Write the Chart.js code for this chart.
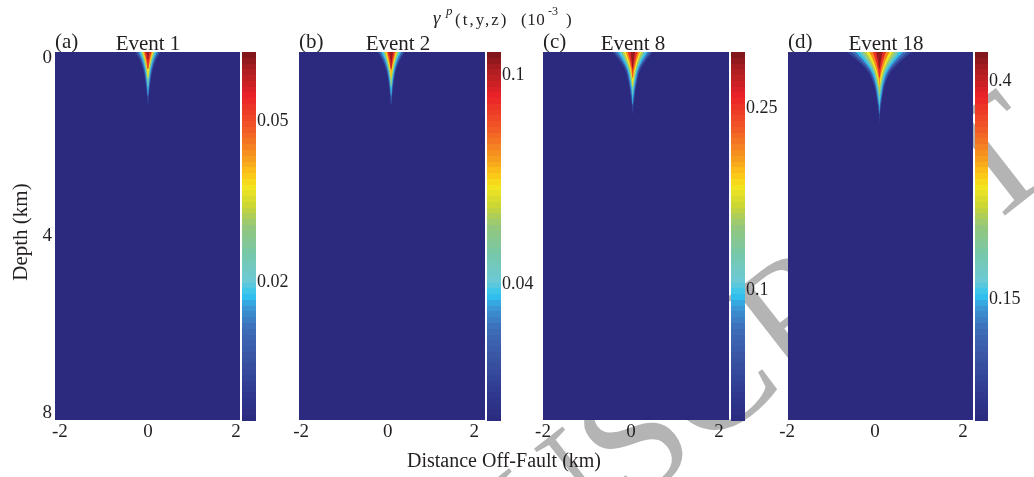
<!DOCTYPE html>
<html>
<head>
<meta charset="utf-8">
<script src="https://cdn.jsdelivr.net/npm/chart.js@4.4.0/dist/chart.umd.min.js"></script>
<style>
  html, body { margin: 0; padding: 0; background: #fff; }
  #wrap { position: relative; width: 1034px; height: 477px; overflow: hidden; }
  #wrap canvas { position: absolute; left: 0; top: 0; }
</style>
</head>
<body>
<div id="wrap"></div>
<script>
// ---- data -------------------------------------------------------------
const panelTags  = ['(a)', '(b)', '(c)', '(d)'];
const eventNames = ['Event 1', 'Event 2', 'Event 8', 'Event 18'];
const distTicks  = [-2, 0, 2];
const depthTicks = [0, 4, 8];
const depthRange = [-0.14, 8.16];
const distRange  = [[-2.11, 2.09], [-2.05, 2.25], [-2.0, 2.23], [-1.98, 2.23]];
const cbarTicks  = [[0.02, 0.05], [0.04, 0.1], [0.1, 0.25], [0.15, 0.4]];
const cbarRange  = [[-0.006, 0.063], [0.001, 0.1066], [-0.008, 0.296], [0.011, 0.434]];

// plume: half-width (km) of each filled contour level at these depths
const plumeCenter = [0, 0.08, 0.04, 0.1];
const depthRows   = [-0.14, 0.05, 0.25, 0.45, 0.65, 0.85, 1.05, 1.25, 1.45];
const levelFrac   = [0.12, 0.25, 0.335, 0.44, 0.55, 0.635, 0.73, 0.86, 0.97];

const widthsEv1 = [
  [0.28, 0.18, 0.11, 0.07, 0.045, 0.022, 0],
  [0.24, 0.15, 0.09, 0.055, 0.03, 0],
  [0.20, 0.12, 0.07, 0.04, 0.015, 0],
  [0.17, 0.10, 0.055, 0.025, 0],
  [0.14, 0.08, 0.04, 0],
  [0.12, 0.065, 0.025, 0],
  [0.10, 0.05, 0],
  [0.075, 0.03, 0],
  [0.035, 0]
];
const widthsEv2 = [
  [0.31, 0.20, 0.12, 0.075, 0.045, 0.025, 0],
  [0.27, 0.17, 0.10, 0.06, 0.035, 0.01, 0],
  [0.23, 0.14, 0.08, 0.045, 0.02, 0],
  [0.19, 0.115, 0.065, 0.03, 0],
  [0.16, 0.095, 0.05, 0.015, 0],
  [0.135, 0.08, 0.035, 0],
  [0.11, 0.06, 0.015, 0],
  [0.085, 0.04, 0],
  [0.045, 0.015, 0]
];
const widthsEv8 = [
  [0.46, 0.30, 0.18, 0.115, 0.075, 0.045, 0.02, 0],
  [0.40, 0.26, 0.15, 0.095, 0.06, 0.03, 0],
  [0.34, 0.22, 0.125, 0.075, 0.04, 0.015, 0],
  [0.29, 0.18, 0.10, 0.055, 0.02, 0],
  [0.24, 0.15, 0.08, 0.04, 0],
  [0.20, 0.12, 0.06, 0.02, 0],
  [0.16, 0.09, 0.04, 0],
  [0.11, 0.06, 0.015, 0],
  [0.055, 0.025, 0]
];
const widthsEv18 = [
  [0.74, 0.50, 0.30, 0.18, 0.11, 0.07, 0.04, 0.015, 0],
  [0.64, 0.43, 0.25, 0.15, 0.09, 0.055, 0.025, 0],
  [0.54, 0.36, 0.21, 0.12, 0.07, 0.04, 0.01, 0],
  [0.45, 0.30, 0.17, 0.09, 0.05, 0.015, 0],
  [0.37, 0.24, 0.13, 0.07, 0.025, 0],
  [0.30, 0.19, 0.10, 0.045, 0],
  [0.23, 0.14, 0.07, 0.02, 0],
  [0.15, 0.085, 0.035, 0],
  [0.075, 0.035, 0]
];
const plumeWidths = [widthsEv1, widthsEv2, widthsEv8, widthsEv18];

// ---- layout -----------------------------------------------------------
const W = 1034, H = 477;
const plotLeft  = [55, 299, 543, 788];
const plotRight = [240, 485, 729, 973];
const cbarLeft  = [242, 487, 731, 975];
const cbarRight = [256, 501, 745, 988];
const plotTop = 52, plotBottom = 420, cbarBottom = 421;
const eventX = [148, 398, 633, 886];

const SERIF = '"Liberation Serif", "Times New Roman", serif';
const INK = '#231f20';
Chart.defaults.font.family = SERIF;
Chart.defaults.color = INK;

// colour map, bottom to top
const cmapStops = [
  [0.00, '#2b2a7e'], [0.08, '#2e3a90'], [0.175, '#3a56a5'], [0.25, '#3e6db8'],
  [0.31, '#3a9ad8'], [0.34, '#2ec4f1'], [0.38, '#6ccad6'], [0.45, '#76c7aa'],
  [0.53, '#96c77a'], [0.58, '#c8d535'], [0.635, '#f4e61f'], [0.67, '#fcc417'],
  [0.725, '#f59020'], [0.79, '#f15a26'], [0.88, '#ea2228'], [0.945, '#b21f23'],
  [1.00, '#7a1518']
];
function hexRgb(h) { return [1, 3, 5].map(k => parseInt(h.substr(k, 2), 16)); }
function cmap(f) {
  f = Math.min(1, Math.max(0, f));
  for (let k = 1; k < cmapStops.length; k++) {
    const [f1, c1] = cmapStops[k];
    if (f <= f1) {
      const [f0, c0] = cmapStops[k - 1];
      const t = (f - f0) / (f1 - f0);
      const a = hexRgb(c0), b = hexRgb(c1);
      return 'rgb(' + a.map((v, j) => Math.round(v + (b[j] - v) * t)).join(',') + ')';
    }
  }
  return cmapStops[cmapStops.length - 1][1];
}

function addCanvas() {
  const c = document.createElement('canvas');
  c.width = W; c.height = H;
  c.style.width = W + 'px'; c.style.height = H + 'px';
  document.getElementById('wrap').appendChild(c);
  return c;
}

// ---- background layer: watermark and free text -----------------------
const bg = addCanvas().getContext('2d');
(function drawBackground(ctx) {
  // watermark letters, rotated, anchored on the "S"
  const size = 162, ang = -38 * Math.PI / 180;
  ctx.save();
  ctx.font = size + 'px ' + SERIF;
  ctx.fillStyle = '#b4b4b4';
  const pre = ctx.measureText('ACCEPTED MANU').width;
  const sW = ctx.measureText('S').width;
  ctx.translate(633, 438);
  ctx.rotate(ang);
  ctx.fillText('ACCEPTED MANUSCRIPT', -pre - sW / 2, size * 0.33);
  ctx.restore();

  ctx.fillStyle = INK;
  ctx.textBaseline = 'alphabetic';

  // panel tags and event names
  ctx.font = '21px ' + SERIF;
  for (let i = 0; i < 4; i++) {
    ctx.textAlign = 'left';
    ctx.fillText(panelTags[i], plotLeft[i], 48);
    ctx.textAlign = 'center';
    ctx.fillText(eventNames[i], eventX[i], 50);
  }

  // axis titles
  ctx.font = '20px ' + SERIF;
  ctx.textAlign = 'center';
  ctx.fillText('Distance Off-Fault (km)', 504, 467);
  ctx.font = '21px ' + SERIF;
  ctx.save();
  ctx.translate(27, 232);
  ctx.rotate(-Math.PI / 2);
  ctx.fillText('Depth (km)', 0, 0);
  ctx.restore();

  // colour bar title
  ctx.textAlign = 'left';
  ctx.font = 'italic 19px ' + SERIF;
  ctx.fillText('\u03b3', 433, 24);
  ctx.font = 'italic 13px ' + SERIF;
  ctx.fillText('p', 446, 15);
  ctx.font = '17px ' + SERIF;
  ctx.letterSpacing = '2px';
  ctx.fillText('(t,y,z)', 455, 25);
  ctx.letterSpacing = '0.5px';
  ctx.fillText('(10', 521, 25);
  ctx.letterSpacing = '0px';
  ctx.font = '12px ' + SERIF;
  ctx.fillText('-3', 548, 15);
  ctx.font = '17px ' + SERIF;
  ctx.fillText(')', 566, 25);
})(bg);

// ---- heat map panels --------------------------------------------------
const fillArea = {
  id: 'fillArea',
  beforeDatasetsDraw(chart) {
    const a = chart.chartArea, ctx = chart.ctx;
    ctx.save();
    ctx.fillStyle = cmap(0);
    ctx.fillRect(a.left, a.top, a.right - a.left, a.bottom - a.top);
    ctx.restore();
  }
};

function plumePath(widths, c) {
  const left = [], right = [];
  for (let r = 0; r < widths.length; r++) {
    if (widths[r] > 0) {
      left.push({ x: c - widths[r], y: depthRows[r] });
      right.unshift({ x: c + widths[r], y: depthRows[r] });
    } else {
      left.push({ x: c, y: depthRows[r] });
      break;
    }
  }
  return left.concat(right);
}

const tickFont = { family: SERIF, size: 19 };
const cbarFont = { family: SERIF, size: 18 };

function makePanel(i) {
  const nLev = plumeWidths[i].length;
  const datasets = plumeWidths[i].map((w, l) => ({
    data: plumePath(w, plumeCenter[i]),
    order: nLev - l,            // outer levels underneath
    showLine: true,
    fill: 'shape',
    tension: 0.35,
    borderWidth: 0,
    pointRadius: 0,
    backgroundColor: cmap(levelFrac[l]),
    borderColor: 'rgba(0,0,0,0)'
  }));
  const first = i === 0;
  return new Chart(addCanvas(), {
    type: 'scatter',
    data: { datasets },
    plugins: [fillArea],
    options: {
      responsive: false, animation: false, events: [],
      layout: { padding: { left: first ? 0 : plotLeft[i], right: W - plotRight[i], top: plotTop, bottom: 0 } },
      plugins: { legend: { display: false }, tooltip: { enabled: false } },
      scales: {
        x: {
          type: 'linear', min: distRange[i][0], max: distRange[i][1],
          grid: { display: false, drawTicks: false }, border: { display: false },
          afterBuildTicks: s => { s.ticks = distTicks.map(v => ({ value: v })); },
          afterFit: s => { s.height = H - plotBottom; },
          ticks: { font: tickFont, color: INK, padding: 1, maxRotation: 0, autoSkip: false, callback: v => String(v) }
        },
        y: {
          type: 'linear', reverse: true, min: depthRange[0], max: depthRange[1],
          display: first,
          grid: { display: false, drawTicks: false }, border: { display: false },
          afterBuildTicks: s => { s.ticks = depthTicks.map(v => ({ value: v })); },
          afterFit: s => { if (first) s.width = plotLeft[0]; },
          ticks: { font: tickFont, color: INK, padding: 3, autoSkip: false, callback: v => String(v) }
        }
      }
    }
  });
}

// ---- colour bars ------------------------------------------------------
function barGradient(chart) {
  const a = chart.chartArea;
  if (!a) return cmap(0.5);
  const g = chart.ctx.createLinearGradient(0, a.bottom, 0, a.top);
  const n = 64;
  for (let k = 0; k < n; k++) {
    const c = cmap((k + 0.5) / n);
    g.addColorStop(k / n, c);
    g.addColorStop((k + 1) / n, c);
  }
  return g;
}

function makeColorbar(i) {
  return new Chart(addCanvas(), {
    type: 'bar',
    data: {
      labels: [''],
      datasets: [{
        data: [cbarRange[i]],
        backgroundColor: ctx => barGradient(ctx.chart),
        barPercentage: 1, categoryPercentage: 1, borderWidth: 0
      }]
    },
    options: {
      responsive: false, animation: false, events: [],
      layout: { padding: { left: cbarLeft[i], right: 0, top: plotTop, bottom: H - cbarBottom } },
      plugins: { legend: { display: false }, tooltip: { enabled: false } },
      scales: {
        x: { display: false },
        y: {
          position: 'right', min: cbarRange[i][0], max: cbarRange[i][1],
          grid: { display: false, drawTicks: false }, border: { display: false },
          afterBuildTicks: s => { s.ticks = cbarTicks[i].map(v => ({ value: v })); },
          afterFit: s => { s.width = W - cbarRight[i]; },
          ticks: { font: cbarFont, color: INK, padding: 1, autoSkip: false, callback: v => String(v) }
        }
      }
    }
  });
}

for (let i = 0; i < 4; i++) {
  makePanel(i);
  makeColorbar(i);
}
</script>
</body>
</html>
